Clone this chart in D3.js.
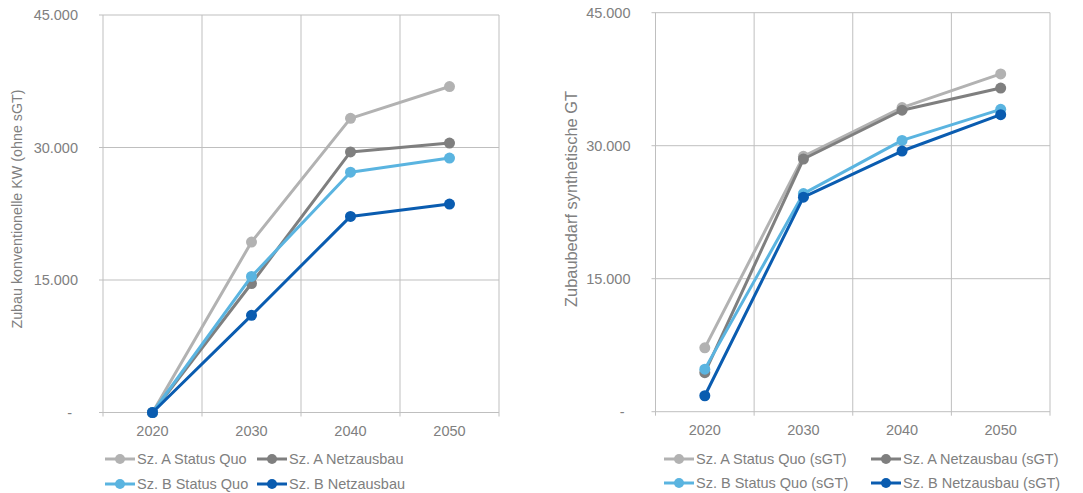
<!DOCTYPE html>
<html>
<head>
<meta charset="utf-8">
<script src="https://cdn.jsdelivr.net/npm/d3@7"></script>
<style>
  html, body { margin: 0; padding: 0; background: #ffffff; }
  svg { display: block; font-family: "Liberation Sans", Arial, sans-serif; }
</style>
</head>
<body>
<svg id="chart" width="1083" height="493"></svg>
<script>
// ---- data ----
const years = ["2020", "2030", "2040", "2050"];
const yTicks = [0, 15000, 30000, 45000];

const leftSeriesNames = ["Sz. A Status Quo", "Sz. A Netzausbau", "Sz. B Status Quo", "Sz. B Netzausbau"];
const leftASQ = [0, 19300, 33300, 36900];
const leftANA = [0, 14600, 29500, 30500];
const leftBSQ = [0, 15400, 27200, 28800];
const leftBNA = [0, 11000, 22200, 23600];

const rightSeriesNames = ["Sz. A Status Quo (sGT)", "Sz. A Netzausbau (sGT)", "Sz. B Status Quo (sGT)", "Sz. B Netzausbau (sGT)"];
const rightASQ = [7200, 28800, 34300, 38100];
const rightANA = [4400, 28500, 34000, 36500];
const rightBSQ = [4800, 24600, 30600, 34100];
const rightBNA = [1800, 24200, 29400, 33500];

const leftTitle = "Zubau konventionelle KW (ohne sGT)";
const rightTitle = "Zubaubedarf synthetische GT";

const colors = ["#b2b2b2", "#7f7f7f", "#5ab4e0", "#0a5cb0"];

// ---- helpers ----
const loc = d3.formatLocale({ decimal: ",", thousands: ".", grouping: [3], currency: ["", ""] });
const fmt = d => d === 0 ? "-" : loc.format(",")(d);

const svg = d3.select("#chart");
const textColor = "#808080";
const gridColor = "#bfbfbf";

function drawChart(cfg) {
  const g = svg.append("g");
  const x = d3.scaleBand().domain(years).range([cfg.x0, cfg.x1]).padding(0);
  const y = d3.scaleLinear().domain([0, 45000]).range([cfg.yb, cfg.yt]);

  // horizontal grid
  g.append("g").selectAll("line").data(yTicks).join("line")
    .attr("x1", cfg.x0 - 4).attr("x2", cfg.x1)
    .attr("y1", d => y(d)).attr("y2", d => y(d))
    .attr("stroke", gridColor).attr("stroke-width", 1);

  // vertical grid at band boundaries
  const bounds = years.map(d => x(d)).concat([cfg.x1]);
  g.append("g").selectAll("line").data(bounds).join("line")
    .attr("x1", d => d).attr("x2", d => d)
    .attr("y1", cfg.yt).attr("y2", cfg.yb + 4)
    .attr("stroke", gridColor).attr("stroke-width", 1);

  // y tick labels
  g.append("g").selectAll("text").data(yTicks).join("text")
    .attr("x", d => d === 0 ? cfg.x0 - 31 : cfg.x0 - 25)
    .attr("y", d => y(d))
    .attr("dy", "0.35em")
    .attr("text-anchor", "end")
    .attr("fill", textColor)
    .style("font-size", "14.5px")
    .text(fmt);

  // x labels
  g.append("g").selectAll("text").data(years).join("text")
    .attr("x", d => x(d) + x.bandwidth() / 2)
    .attr("y", cfg.yb + 18)
    .attr("dy", "0.35em")
    .attr("text-anchor", "middle")
    .attr("fill", textColor)
    .style("font-size", "14.5px")
    .text(d => d);

  // y title
  g.append("text")
    .attr("transform", `translate(${cfg.titleX},${cfg.titleY}) rotate(-90)`)
    .attr("text-anchor", "middle")
    .attr("dy", "0.35em")
    .attr("fill", textColor)
    .style("font-size", cfg.titleSize)
    .text(cfg.title);

  // series
  const line = d3.line().x((d, i) => x(years[i]) + x.bandwidth() / 2).y(d => y(d));
  cfg.series.forEach((vals, si) => {
    g.append("path").datum(vals)
      .attr("d", line)
      .attr("fill", "none")
      .attr("stroke", colors[si])
      .attr("stroke-width", 3)
      .attr("stroke-linejoin", "round");
    g.append("g").selectAll("circle").data(vals).join("circle")
      .attr("cx", (d, i) => x(years[i]) + x.bandwidth() / 2)
      .attr("cy", d => y(d))
      .attr("r", 5.5)
      .attr("fill", colors[si]);
  });

  // legend
  const lg = g.append("g");
  cfg.names.forEach((name, i) => {
    const col = i % 2, row = Math.floor(i / 2);
    const lx = cfg.legX[col], ly = cfg.legY[row];
    lg.append("line").attr("x1", lx).attr("x2", lx + 30).attr("y1", ly).attr("y2", ly)
      .attr("stroke", colors[i]).attr("stroke-width", 3);
    lg.append("circle").attr("cx", lx + 15).attr("cy", ly).attr("r", 5).attr("fill", colors[i]);
    lg.append("text").attr("x", lx + 32).attr("y", ly).attr("dy", "0.35em")
      .attr("fill", textColor).style("font-size", "14.5px").text(name);
  });
}

drawChart({
  x0: 103, x1: 499, yt: 15, yb: 412.5,
  title: leftTitle, titleX: 17, titleY: 209, titleSize: "14.3px",
  series: [leftASQ, leftANA, leftBSQ, leftBNA],
  names: leftSeriesNames,
  legX: [105, 257], legY: [459, 484]
});

drawChart({
  x0: 655.5, x1: 1050, yt: 12.7, yb: 411.7,
  title: rightTitle, titleX: 571, titleY: 199, titleSize: "16.4px",
  series: [rightASQ, rightANA, rightBSQ, rightBNA],
  names: rightSeriesNames,
  legX: [664, 871], legY: [459, 483]
});
</script>
</body>
</html>
